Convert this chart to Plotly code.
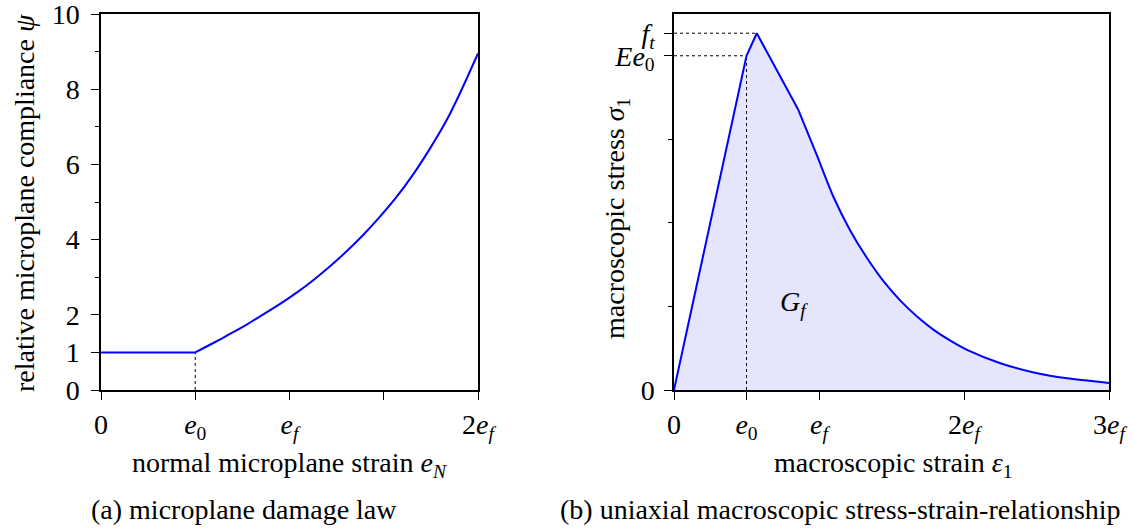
import plotly.graph_objects as go

# ---------------- data ----------------
# (a) microplane damage law: relative compliance psi over normal strain e_N (in units of e_f)
strain_a = [0.0, 0.5, 0.596, 0.684, 0.773, 0.861, 0.950, 1.038, 1.126, 1.215, 1.303,
            1.392, 1.480, 1.569, 1.657, 1.745, 1.834, 1.905, 2.0]
psi_a = [1.0, 1.0, 1.25, 1.49, 1.74, 2.01, 2.29, 2.59, 2.92, 3.29, 3.69,
         4.13, 4.61, 5.14, 5.74, 6.42, 7.18, 7.90, 8.95]

# (b) uniaxial macroscopic stress-strain curve (strain in units of e_f, stress in units of E e_0 / 4)
strain_b = [0.0, 0.5, 0.571, 0.858, 0.985, 1.100, 1.215, 1.331, 1.446, 1.561, 1.676,
            1.791, 1.906, 2.021, 2.251, 2.481, 2.712, 3.0]
stress_b = [0.0, 4.0, 4.27, 3.35, 2.81, 2.31, 1.91, 1.58, 1.30, 1.07, 0.88,
            0.72, 0.59, 0.48, 0.32, 0.21, 0.14, 0.085]

e0 = 0.5
E_e0 = 4.0
f_t = 4.27
f_t_strain = 0.571

xtick_a_vals = [0, 0.5, 1, 1.5, 2]
xtick_a_text = ["0", "<i>e</i><sub>0</sub>", "<i>e<sub>f</sub></i>", "", "2<i>e<sub>f</sub></i>"]
ytick_a_vals = [0, 1, 2, 4, 6, 8, 10]
ytick_a_text = ["0", "1", "2", "4", "6", "8", "10"]
yminor_a = [3, 5, 7, 9]

xtick_b_vals = [0, 0.5, 1, 2, 3]
xtick_b_text = ["0", "<i>e</i><sub>0</sub>", "<i>e<sub>f</sub></i>", "2<i>e<sub>f</sub></i>", "3<i>e<sub>f</sub></i>"]
ytick_b_vals = [0, E_e0, f_t]
ytick_b_text = ["0", "<i>Ee</i><sub>0</sub>", "<i>f<sub>t</sub></i>"]
yminor_b = [1, 2, 3]

# ---------------- styling ----------------
W, H = 1134, 528
FONT = "Liberation Serif, Times New Roman, serif"
FS = 28
BLUE = "#0000ff"
FILL = "#e5e5fb"


def px_x(p):
    return p / W


def px_y(p):
    return 1 - p / H


fig = go.Figure()

# (a) flat branch, dotted marker at e0, then the rising branch
fig.add_trace(go.Scatter(x=[e0, e0], y=[0, psi_a[1]], mode="lines",
                         line=dict(color="black", width=1, dash="dot"),
                         xaxis="x", yaxis="y", hoverinfo="skip"))
fig.add_trace(go.Scatter(x=strain_a[:2], y=psi_a[:2], mode="lines",
                         line=dict(color=BLUE, width=2), xaxis="x", yaxis="y"))
fig.add_trace(go.Scatter(x=strain_a[1:], y=psi_a[1:], mode="lines",
                         line=dict(color=BLUE, width=2, shape="spline", smoothing=0.6),
                         xaxis="x", yaxis="y"))

# (b) filled area under the stress-strain curve
fig.add_trace(go.Scatter(x=strain_b, y=stress_b, mode="lines", fill="tozeroy",
                         fillcolor=FILL, line=dict(color="rgba(0,0,0,0)", width=0),
                         xaxis="x2", yaxis="y2", hoverinfo="skip"))
# helper lines to e0, E e0 and f_t
fig.add_trace(go.Scatter(x=[e0, e0, None, 0, e0, None, 0, f_t_strain],
                         y=[0, E_e0, None, E_e0, E_e0, None, f_t, f_t], mode="lines",
                         line=dict(color="black", width=1, dash="dot"),
                         xaxis="x2", yaxis="y2", hoverinfo="skip"))
# linear loading up to the kink, then the softening tail
fig.add_trace(go.Scatter(x=strain_b[:4], y=stress_b[:4], mode="lines",
                         line=dict(color=BLUE, width=2), xaxis="x2", yaxis="y2"))
fig.add_trace(go.Scatter(x=strain_b[3:], y=stress_b[3:], mode="lines",
                         line=dict(color=BLUE, width=2, shape="spline", smoothing=0.6),
                         xaxis="x2", yaxis="y2"))

axis_common = dict(showline=True, linecolor="black", linewidth=1.5, mirror=True,
                   showgrid=False, zeroline=False, ticks="outside", ticklen=8,
                   tickwidth=1.2, tickcolor="black", tickmode="array",
                   automargin=False, ticklabeloverflow="allow",
                   tickfont=dict(family=FONT, size=FS, color="black"))

fig.update_layout(
    width=W, height=H,
    margin=dict(l=0, r=0, t=0, b=0),
    paper_bgcolor="white", plot_bgcolor="white",
    showlegend=False,
    font=dict(family=FONT, size=FS, color="black"),
    xaxis=dict(axis_common, domain=[px_x(101), px_x(478)], range=[0, 2],
               tickvals=xtick_a_vals, ticktext=xtick_a_text, ticklabelstandoff=1,
               anchor="y"),
    yaxis=dict(axis_common, domain=[px_y(390), px_y(14)], range=[0, 10],
               tickvals=ytick_a_vals, ticktext=ytick_a_text, ticklabelstandoff=6,
               minor=dict(tickvals=yminor_a, ticks="outside", ticklen=4,
                          tickcolor="black", tickwidth=1),
               anchor="x"),
    xaxis2=dict(axis_common, domain=[px_x(674), px_x(1109)], range=[0, 3],
                tickvals=xtick_b_vals, ticktext=xtick_b_text, ticklabelstandoff=1,
                anchor="y2"),
    yaxis2=dict(axis_common, domain=[px_y(390), px_y(14)], range=[0, 4.5],
                tickvals=ytick_b_vals, ticktext=ytick_b_text, ticklabelstandoff=4,
                minor=dict(tickvals=yminor_b, ticks="outside", ticklen=4,
                           tickcolor="black", tickwidth=1),
                anchor="x2"),
)

annotations = [
    dict(text="normal microplane strain <i>e<sub>N</sub></i>", x=px_x(289.5), y=px_y(464), size=FS),
    dict(text="(a) microplane damage law", x=px_x(243.5), y=px_y(509), size=FS),
    dict(text="macroscopic strain <i>ε</i><sub>1</sub>", x=px_x(893), y=px_y(464), size=FS),
    dict(text="(b) uniaxial macroscopic stress-strain-relationship", x=px_x(840), y=px_y(509), size=FS),
    dict(text="relative microplane compliance <i>ψ</i>", x=px_x(24), y=px_y(203), size=28, textangle=-90),
    dict(text="macroscopic stress <i>σ</i><sub>1</sub>", x=px_x(616), y=px_y(219), size=FS, textangle=-90),
]
for a in annotations:
    size = a.pop("size")
    fig.add_annotation(xref="paper", yref="paper", showarrow=False,
                       xanchor="center", yanchor="middle",
                       font=dict(family=FONT, size=size, color="black"), **a)

fig.add_annotation(xref="x2", yref="y2", x=0.83, y=1.03, showarrow=False,
                   text="<i>G<sub>f</sub></i>",
                   font=dict(family=FONT, size=FS, color="black"))

fig.write_html("out.html")
